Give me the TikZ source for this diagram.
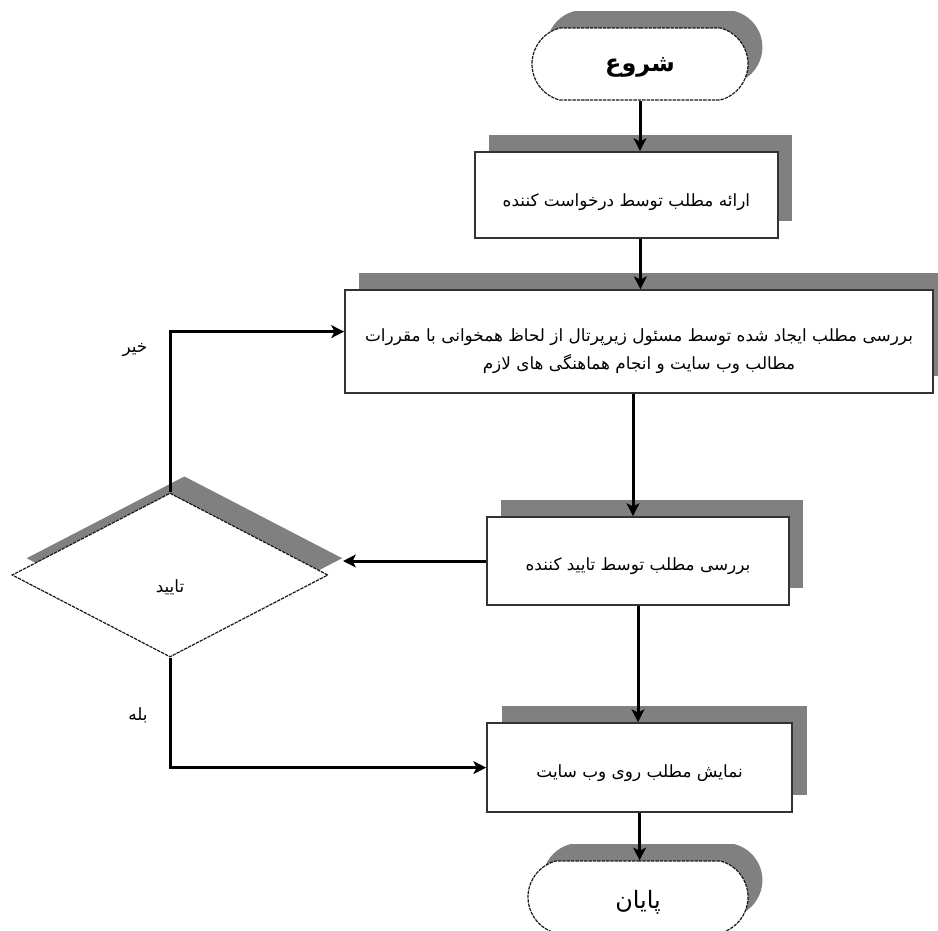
\documentclass[tikz,border=0pt]{standalone}
\usepackage{fontspec}
\usepackage{tikz}
\usetikzlibrary{positioning,arrows.meta,shapes.geometric,shapes.misc,shadows}
\newfontfamily\arabicfont[Script=Arabic]{DejaVu Sans}
\TeXXeTstate=1
\newcommand{\fa}[1]{{\arabicfont\beginR #1\endR}}

\begin{document}
\begin{tikzpicture}[
  shd/.style  = {general shadow={fill=black!50, shadow xshift=3.6mm, shadow yshift=4.2mm}},
  blk/.style  = {draw=black!80, line width=0.45mm, fill=white, shd, inner sep=0pt,
                 align=center, text height=4.8mm, text depth=0pt,
                 font=\fontsize{12}{19.5}\selectfont},
  dsh/.style  = {draw=black!90, dash pattern=on 2.4pt off 0.7pt, line width=0.3mm},
  trm/.style  = {rounded rectangle, rounded rectangle arc length=150, dsh,
                 fill=white, shd, minimum width=54mm, minimum height=18mm,
                 inner sep=0pt, text height=5.6mm, text depth=0pt,
                 font=\fontsize{17}{20}\selectfont},
  dcs/.style  = {diamond, dsh, fill=white, shd,
                 minimum width=79mm, minimum height=41mm, inner sep=0pt,
                 text height=8.8mm, text depth=0pt,
                 font=\fontsize{12}{14}\selectfont},
  ar/.style   = {-{Stealth[length=3.2mm, width=3.2mm, inset=0.8mm]}, line width=0.75mm},
  lbl/.style  = {font=\fontsize{12}{14}\selectfont},
]
\useasboundingbox (0,0) rectangle (234.5mm,-232.5mm);

% ---- main column
\node[trm, font=\fontsize{17}{20}\bfseries, text height=3.6mm] (start)
  at (160mm,-16mm) {\fa{شروع}};
\node[blk, minimum width=75.75mm, minimum height=21.5mm, text height=5.9mm] (req)
  at (156.6mm,-48.75mm) {\fa{ارائه مطلب توسط درخواست کننده}};
\node[blk, minimum width=147mm, minimum height=25.75mm, text height=13.7mm] (rev)
  at (159.75mm,-85.4mm)
  {\fa{بررسی مطلب ایجاد شده توسط مسئول زیرپرتال از لحاظ همخوانی با مقررات}\\
   \fa{مطالب وب سایت و انجام هماهنگی های لازم}};
\node[blk, minimum width=75.5mm, minimum height=22mm] (chk)
  at (159.5mm,-140.25mm) {\fa{بررسی مطلب توسط تایید کننده}};
\node[blk, minimum width=76.25mm, minimum height=22.25mm] (pub)
  at (159.9mm,-191.9mm) {\fa{نمایش مطلب روی وب سایت}};
\node[trm, minimum width=55mm] (stop)
  at (159.5mm,-224.25mm) {\fa{پایان}};

% ---- decision
\node[dcs] (ok) at (42.5mm,-143.75mm) {\fa{تایید}};
\coordinate (oksh) at ([shift={(3.6mm,3.2mm)}]ok.east);

% ---- connectors
\draw[ar] (start.south) -- (start.south |- req.north);
\draw[ar] ([xshift=3.5mm]req.south) -- ([xshift=3.5mm]req.south |- rev.north);
\draw[ar] ([xshift=-1.5mm]rev.south) -- ([xshift=-1.5mm]rev.south |- chk.north);
\draw[ar] (chk.south) -- (chk.south |- pub.north);
\draw[ar] (pub.south) -- (pub.south |- stop.north);
\draw[ar] (chk.west) -- (chk.west -| oksh);
\draw[ar] (ok.north) |- ([yshift=2.5mm]rev.west);
\draw[ar] (ok.south) |- (pub.west);

% ---- labels
\node[lbl] (no)  at (33.75mm,-87.5mm)   {\fa{خیر}};
\node[lbl] (yes) at (34.5mm,-178.75mm)  {\fa{بله}};

\end{tikzpicture}
\end{document}
